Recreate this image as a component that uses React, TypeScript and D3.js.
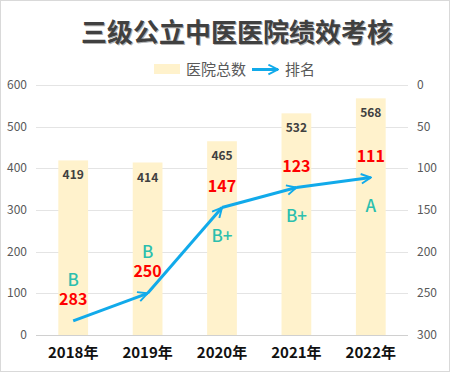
import React, { useEffect, useRef } from 'react';
import * as d3 from 'd3';

const years = ['2018年', '2019年', '2020年', '2021年', '2022年'];
const hospitals = [419, 414, 465, 532, 568];
const ranks = [283, 250, 147, 123, 111];
const grades = ['B', 'B', 'B+', 'B+', 'A'];
// grade label above the rank label (true) or below the point (false)
const gradeAbove = [true, true, false, false, false];
const leftTicks = [0, 100, 200, 300, 400, 500, 600];
const rightTicks = [0, 50, 100, 150, 200, 250, 300];

const FONT = '"Noto Sans CJK SC", "Microsoft YaHei", sans-serif';

const App: React.FC = () => {
  const svgRef = useRef<SVGSVGElement | null>(null);

  useEffect(() => {
    if (!svgRef.current) return;
    const svg = d3.select(svgRef.current);
    svg.selectAll('*').remove();

    const width = 450;
    const height = 372;
    const margin = { top: 85, right: 42, bottom: 37, left: 36 };

    // border
    svg.append('rect')
      .attr('x', 0.5).attr('y', 0.5)
      .attr('width', width - 1).attr('height', height - 1)
      .attr('fill', '#fff').attr('stroke', '#d9d9d9');

    const x = d3.scaleBand<string>()
      .domain(years)
      .range([margin.left, width - margin.right])
      .paddingInner(0.6).paddingOuter(0.3);

    const yL = d3.scaleLinear().domain([0, 600]).range([height - margin.bottom, margin.top]);
    const yR = d3.scaleLinear().domain([0, 300]).range([margin.top, height - margin.bottom]);

    // title
    const title = svg.append('g');
    title.append('text')
      .attr('x', 238).attr('y', 43)
      .attr('text-anchor', 'middle')
      .style('font', `bold 26px ${FONT}`)
      .attr('fill', '#b0b0b0')
      .text('三级公立中医医院绩效考核');
    title.append('text')
      .attr('x', 237).attr('y', 42)
      .attr('text-anchor', 'middle')
      .style('font', `bold 26px ${FONT}`)
      .attr('fill', '#404040')
      .text('三级公立中医医院绩效考核');

    // legend
    svg.append('rect')
      .attr('x', 154).attr('y', 64).attr('width', 26).attr('height', 10)
      .attr('fill', '#fff2cc');
    svg.append('text')
      .attr('x', 186).attr('y', 75)
      .style('font', `15px ${FONT}`)
      .attr('fill', '#595959')
      .text('医院总数');
    svg.append('defs').append('marker')
      .attr('id', 'arr')
      .attr('viewBox', '0 0 10 10')
      .attr('refX', 9).attr('refY', 5)
      .attr('markerWidth', 4).attr('markerHeight', 4)
      .attr('markerUnits', 'strokeWidth')
      .attr('orient', 'auto')
      .append('path')
      .attr('d', 'M1,1 L9,5 L1,9')
      .attr('fill', 'none')
      .attr('stroke', '#11aaea')
      .attr('stroke-width', 1.6)
      .attr('stroke-linejoin', 'miter');
    svg.append('line')
      .attr('x1', 252).attr('x2', 278).attr('y1', 69.5).attr('y2', 69.5)
      .attr('stroke', '#11aaea').attr('stroke-width', 3)
      .attr('marker-end', 'url(#arr)');
    svg.append('text')
      .attr('x', 285).attr('y', 75)
      .style('font', `15px ${FONT}`)
      .attr('fill', '#595959')
      .text('排名');

    // grid
    svg.append('g')
      .selectAll('line')
      .data(leftTicks)
      .join('line')
      .attr('x1', margin.left).attr('x2', width - margin.right)
      .attr('y1', d => Math.round(yL(d)) + 0.5).attr('y2', d => Math.round(yL(d)) + 0.5)
      .attr('stroke', d => (d === 0 ? '#d0d0d0' : '#e4e4e4'))
      .attr('stroke-width', 1);

    // left axis labels
    svg.append('g')
      .selectAll('text')
      .data(leftTicks)
      .join('text')
      .attr('x', 27).attr('y', d => yL(d) + 4)
      .attr('text-anchor', 'end')
      .style('font', `12px ${FONT}`)
      .attr('fill', '#595959')
      .text(d => d);

    // right axis labels
    svg.append('g')
      .selectAll('text')
      .data(rightTicks)
      .join('text')
      .attr('x', 417).attr('y', d => yR(d) + 4)
      .style('font', `12px ${FONT}`)
      .attr('fill', '#595959')
      .text(d => d);

    // bars
    svg.append('g')
      .selectAll('rect')
      .data(hospitals)
      .join('rect')
      .attr('x', (d, i) => x(years[i])!)
      .attr('width', x.bandwidth())
      .attr('y', d => yL(d))
      .attr('height', d => yL(0) - yL(d))
      .attr('fill', '#fff2cc');

    svg.append('g')
      .selectAll('text')
      .data(hospitals)
      .join('text')
      .attr('x', (d, i) => x(years[i])! + x.bandwidth() / 2)
      .attr('y', d => yL(d) + 19)
      .attr('text-anchor', 'middle')
      .style('font', `bold 12px ${FONT}`)
      .attr('fill', '#404040')
      .text(d => d);

    // x labels
    svg.append('g')
      .selectAll('text')
      .data(years)
      .join('text')
      .attr('x', d => x(d)! + x.bandwidth() / 2)
      .attr('y', 358)
      .attr('text-anchor', 'middle')
      .style('font', `bold 15px ${FONT}`)
      .attr('fill', '#111')
      .text(d => d);

    // rank line: one segment per step, arrow at each end
    const pts = ranks.map((r, i) => [x(years[i])! + x.bandwidth() / 2, yR(r)] as [number, number]);
    const seg = d3.line();
    const lineG = svg.append('g');
    for (let i = 0; i < pts.length - 1; i++) {
      lineG.append('path')
        .attr('d', seg([pts[i], pts[i + 1]]))
        .attr('fill', 'none')
        .attr('stroke', '#11aaea')
        .attr('stroke-width', 3)
        .attr('marker-end', 'url(#arr)');
    }

    // rank labels
    svg.append('g')
      .selectAll('text')
      .data(ranks)
      .join('text')
      .attr('x', (d, i) => pts[i][0])
      .attr('y', (d, i) => pts[i][1] - 16)
      .attr('text-anchor', 'middle')
      .style('font', `bold 16px ${FONT}`)
      .attr('fill', '#ff0000')
      .text(d => d);

    // grade labels
    svg.append('g')
      .selectAll('text')
      .data(grades)
      .join('text')
      .attr('x', (d, i) => pts[i][0])
      .attr('y', (d, i) => (gradeAbove[i] ? pts[i][1] - 35 : pts[i][1] + 34))
      .attr('text-anchor', 'middle')
      .style('font', `500 17px ${FONT}`)
      .attr('fill', '#2cbfae')
      .text(d => d);
  }, []);

  return (
    <svg
      ref={svgRef}
      width={450}
      height={372}
      style={{ position: 'absolute', left: 0, top: 0 }}
    />
  );
};

export default App;
